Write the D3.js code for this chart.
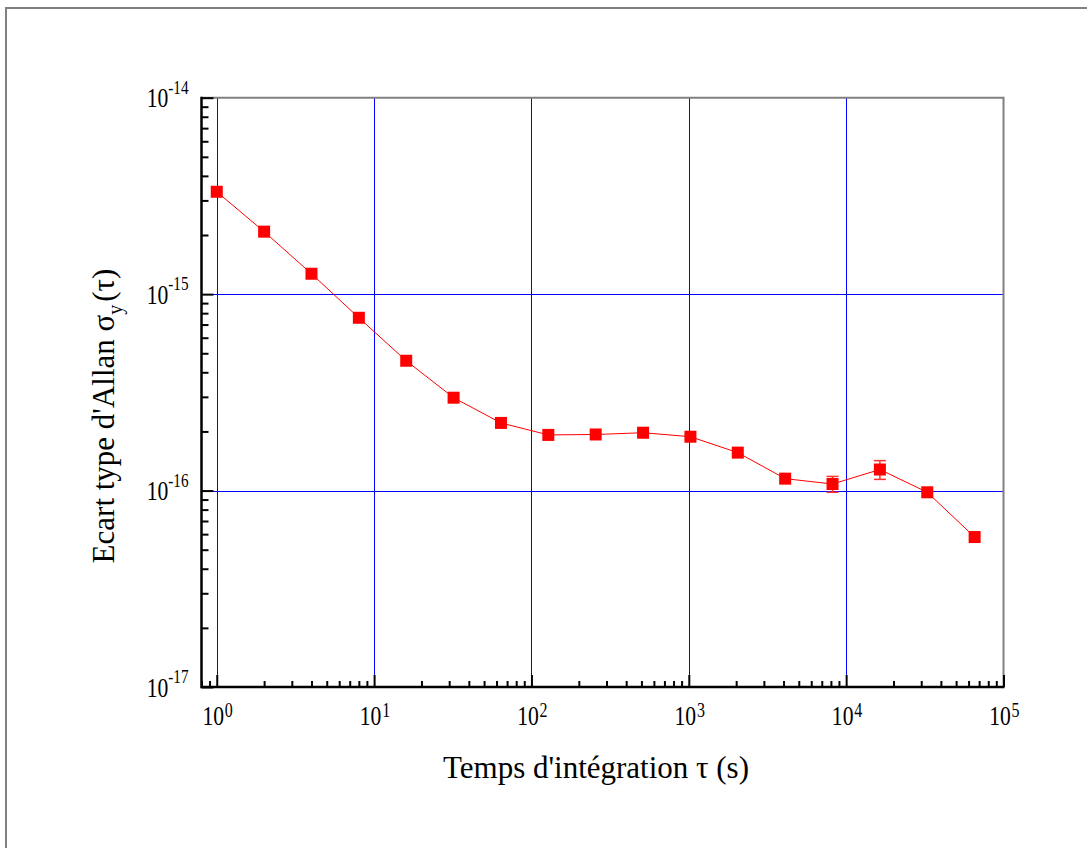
<!DOCTYPE html>
<html>
<head>
<meta charset="utf-8">
<script src="https://cdn.jsdelivr.net/npm/d3@7"></script>
<style>
  html, body { margin: 0; padding: 0; background: #fff; }
  svg { display: block; }
  text { font-family: "Liberation Serif", "Times New Roman", serif; fill: #000; }
</style>
</head>
<body>
<svg id="chart" width="1087" height="848"></svg>
<script>
// ---- Data ----
const taus = [1, 2, 4, 8, 16, 32, 64, 128, 256, 512, 1024, 2048, 4096, 8192, 16384, 32768, 65536];
const sigma = [3.32e-15, 2.08e-15, 1.27e-15, 7.58e-16, 4.58e-16, 2.97e-16, 2.21e-16, 1.92e-16,
               1.93e-16, 1.97e-16, 1.88e-16, 1.56e-16, 1.15e-16, 1.08e-16, 1.28e-16, 9.8e-17, 5.8e-17];
const sigmaErr = [0, 0, 0, 0, 0, 0, 0, 0, 0, 0, 0, 0, 0, 1e-17, 1.4e-17, 0, 0];
const xMajorTicks = [1, 10, 100, 1000, 10000, 100000];
const xTickExponents = ["0", "1", "2", "3", "4", "5"];
const yMajorTicks = [1e-14, 1e-15, 1e-16, 1e-17];
const yTickExponents = ["-14", "-15", "-16", "-17"];
const xTitle = "Temps d'intégration τ (s)";
const yTitleMain = "Ecart type d'Allan σ";
const yTitleSub = "y";
const yTitleTail = "(τ)";

(function () {
// ---- Layout ----
const pL = 201.5, pR = 1003.5, pT = 97.7, pB = 687;
const svg = d3.select("#chart");

const x = d3.scaleLog().domain([0.8, 1e5]).range([pL, pR]);
const y = d3.scaleLog().domain([1e-17, 1e-14]).range([pB, pT]);

// outer frame (top and left visible)
svg.append("path")
  .attr("d", `M6,848 V8 H1087`)
  .attr("fill", "none").attr("stroke", "#808080").attr("stroke-width", 2);

// minor tick values
const xMinor = [];
[0.1, 1, 10, 100, 1000, 10000].forEach(d => { for (let k = 2; k <= 9; k++) { const v = d * k; if (v >= 0.8 && v < 1e5) xMinor.push(v); } });
const yMinor = [];
[1e-17, 1e-16, 1e-15].forEach(d => { for (let k = 2; k <= 9; k++) yMinor.push(d * k); });

// grid
const g = svg.append("g");
g.selectAll("line.vg").data(xMajorTicks.filter(v => v < 1e5)).enter().append("line")
  .attr("x1", d => Math.round(x(d)) + 0.5).attr("x2", d => Math.round(x(d)) + 0.5)
  .attr("y1", pT).attr("y2", pB)
  .attr("stroke", "#0000ff").attr("stroke-width", 1);
g.selectAll("line.hg").data([1e-15, 1e-16]).enter().append("line")
  .attr("x1", pL).attr("x2", pR)
  .attr("y1", d => Math.round(y(d)) + 0.5).attr("y2", d => Math.round(y(d)) + 0.5)
  .attr("stroke", "#0000ff").attr("stroke-width", 1);

// top & right frame (gray)
svg.append("path")
  .attr("d", `M${pL},${pT} H${pR} V${pB}`)
  .attr("fill", "none").attr("stroke", "#808080").attr("stroke-width", 2);

// axes via d3
const xAxisMajor = d3.axisBottom(x).tickValues(xMajorTicks).tickSizeInner(-12).tickSizeOuter(0).tickFormat("");
const xAxisMinor = d3.axisBottom(x).tickValues(xMinor).tickSizeInner(-6).tickSizeOuter(0).tickFormat("");
const yAxisMajor = d3.axisLeft(y).tickValues(yMajorTicks).tickSizeInner(-12).tickSizeOuter(0).tickFormat("");
const yAxisMinor = d3.axisLeft(y).tickValues(yMinor).tickSizeInner(-7).tickSizeOuter(0).tickFormat("");

function styleAxis(sel) {
  sel.selectAll("line").attr("stroke", "#000").attr("stroke-width", 2);
  sel.select(".domain").remove();
}
svg.append("g").attr("transform", `translate(0,${pB})`).call(xAxisMinor).call(styleAxis);
svg.append("g").attr("transform", `translate(0,${pB})`).call(xAxisMajor).call(styleAxis);
svg.append("g").attr("transform", `translate(${pL},0)`).call(yAxisMinor).call(styleAxis);
svg.append("g").attr("transform", `translate(${pL},0)`).call(yAxisMajor).call(styleAxis);

// axis lines (black)
svg.append("path")
  .attr("d", `M${pL},${pT - 1} V${pB} H${pR + 1}`)
  .attr("fill", "none").attr("stroke", "#000").attr("stroke-width", 2.5);

// tick labels x (glyphs are narrow/tall in the reference)
xMajorTicks.forEach((v, i) => {
  const gl = svg.append("g").attr("transform", `translate(${x(v) - 14.3},725) scale(0.8,1)`);
  const t = gl.append("text").attr("x", 0).attr("y", 0)
    .attr("text-anchor", "start").attr("font-size", 27);
  t.append("tspan").text("10");
  t.append("tspan").attr("font-size", 20).attr("dx", 1).attr("dy", -8).text(xTickExponents[i]);
});
// tick labels y
yMajorTicks.forEach((v, i) => {
  const gl = svg.append("g").attr("transform", `translate(188.5,${y(v) + 9.7}) scale(0.8,1)`);
  const t = gl.append("text").attr("x", 0).attr("y", 0)
    .attr("text-anchor", "end").attr("font-size", 27);
  t.append("tspan").text("10");
  t.append("tspan").attr("font-size", 19).attr("dy", -13.5).text(yTickExponents[i]);
});

// axis titles
svg.append("text").attr("x", 596).attr("y", 778).attr("text-anchor", "middle")
  .attr("font-size", 31).text(xTitle);
const yt = svg.append("text").attr("transform", "translate(114,416) rotate(-90)")
  .attr("text-anchor", "middle").attr("font-size", 31);
yt.append("tspan").text(yTitleMain);
yt.append("tspan").attr("font-size", 20).attr("dy", 8).text(yTitleSub);
yt.append("tspan").attr("dy", -8).attr("dx", 3).text(yTitleTail);

// data
const data = taus.map((t, i) => ({ t, s: sigma[i], e: sigmaErr[i] }));

svg.append("path").datum(data)
  .attr("d", d3.line().x(d => x(d.t)).y(d => y(d.s)))
  .attr("fill", "none").attr("stroke", "#ff0000").attr("stroke-width", 1);

const eb = svg.append("g").attr("stroke", "#ff3030").attr("stroke-width", 1.5);
data.filter(d => d.e > 0).forEach(d => {
  const cx = x(d.t), y1 = y(d.s + d.e), y2 = y(d.s - d.e);
  eb.append("line").attr("x1", cx).attr("x2", cx).attr("y1", y1).attr("y2", y2);
  eb.append("line").attr("x1", cx - 6).attr("x2", cx + 6).attr("y1", y1).attr("y2", y1);
  eb.append("line").attr("x1", cx - 6).attr("x2", cx + 6).attr("y1", y2).attr("y2", y2);
});

svg.append("g").selectAll("rect").data(data).enter().append("rect")
  .attr("x", d => x(d.t) - 6).attr("y", d => y(d.s) - 6)
  .attr("width", 12).attr("height", 12)
  .attr("fill", "#ff0000");
})();
</script>
</body>
</html>
